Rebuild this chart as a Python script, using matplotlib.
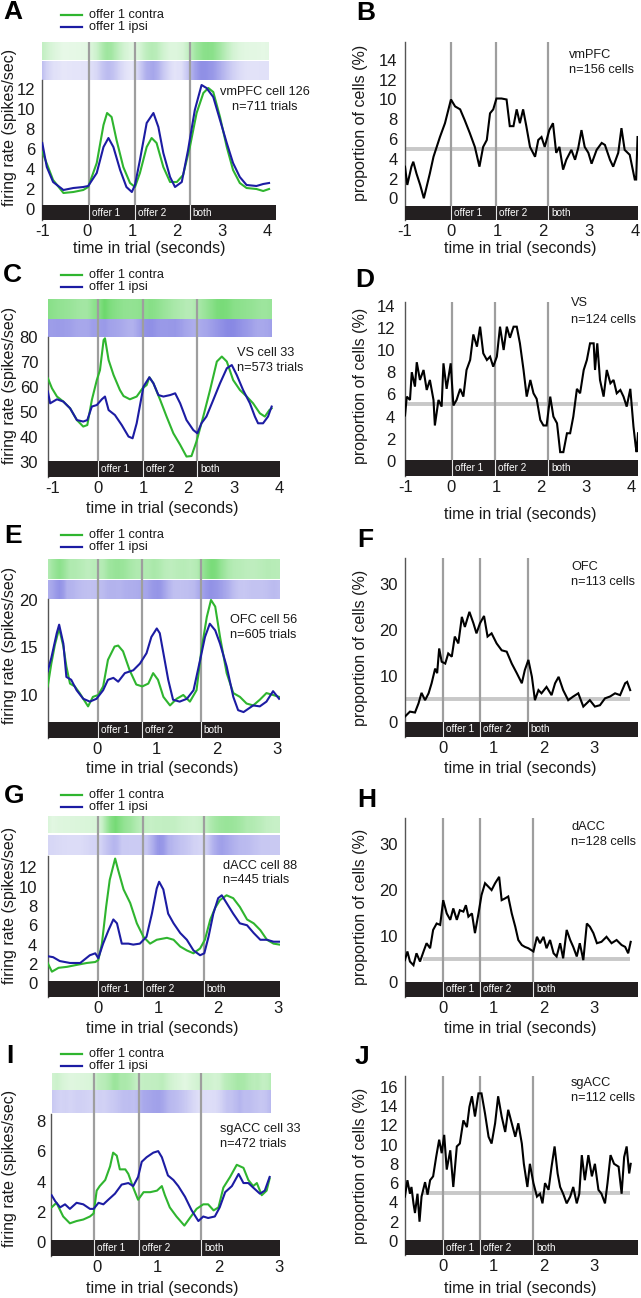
import numpy as np
import matplotlib
matplotlib.use("Agg")
import matplotlib.pyplot as plt
from matplotlib.lines import Line2D
from matplotlib.patches import Rectangle

plt.rcParams['font.family'] = ['Liberation Sans', 'DejaVu Sans']
plt.rcParams['axes.unicode_minus'] = False

# ---------------- DATA ----------------
# Panel A: vmPFC cell 126
A_t_contra = [-1.00, -0.76, -0.53, -0.31, -0.09, 0.02, 0.21, 0.36, 0.44, 0.54, 0.65, 0.80, 0.95, 1.06, 1.17, 1.32, 1.43, 1.54, 1.69, 1.84,
              1.99, 2.13, 2.28, 2.43, 2.58, 2.69, 2.80, 2.95, 3.10, 3.24, 3.39, 3.54, 3.76, 3.91, 4.04]
A_contra = [5.7, 2.9, 1.6, 1.7, 1.9, 2.2, 4.6, 8.4, 9.6, 9.2, 6.9, 4.2, 2.6, 2.2, 3.6, 6.2, 7.1, 6.6, 4.2, 2.7,
            2.7, 3.4, 6.2, 9.6, 11.6, 12.1, 11.7, 9.2, 6.2, 3.9, 2.6, 2.1, 2.0, 1.8, 2.0]
A_t_ipsi = [-1.00, -0.90, -0.76, -0.53, -0.31, -0.09, 0.02, 0.21, 0.36, 0.47, 0.58, 0.73, 0.87, 0.99, 1.06, 1.17, 1.32, 1.47, 1.58, 1.69,
            1.84, 1.95, 2.10, 2.24, 2.39, 2.54, 2.65, 2.80, 2.95, 3.10, 3.24, 3.39, 3.54, 3.76, 3.91, 4.04]
A_ipsi = [6.6, 4.2, 2.7, 1.9, 2.1, 2.2, 2.3, 3.6, 6.2, 7.1, 6.2, 3.9, 2.2, 1.7, 2.4, 4.9, 8.6, 9.6, 8.2, 5.6,
          3.2, 2.2, 2.7, 5.9, 9.9, 12.4, 12.1, 11.2, 8.9, 6.6, 4.6, 3.2, 2.4, 2.3, 2.5, 2.6]

# Panel B: vmPFC population
B_t = [-1.00, -0.95, -0.86, -0.82, -0.75, -0.67, -0.59, -0.46, -0.38, -0.31, -0.24, -0.13, 0.00, 0.09, 0.20, 0.30, 0.41, 0.52, 0.62, 0.70,
       0.78, 0.85, 0.92, 0.99, 1.10, 1.21, 1.28, 1.36, 1.43, 1.50, 1.57, 1.64, 1.72, 1.83, 1.90, 1.97, 2.04, 2.14, 2.22, 2.29,
       2.36, 2.44, 2.51, 2.62, 2.70, 2.77, 2.84, 2.91, 2.99, 3.06, 3.17, 3.28, 3.35, 3.46, 3.53, 3.64, 3.71, 3.78, 3.89, 4.00,
       4.03, 4.06]
B_prop = [3.2, 1.35, 3.2, 3.7, 2.5, 1.35, 0.0, 2.5, 4.2, 5.2, 6.2, 7.6, 10.0, 9.3, 9.0, 7.9, 6.6, 5.2, 3.2, 5.2,
          5.9, 8.6, 9.0, 10.1, 10.1, 10.0, 7.3, 7.3, 9.0, 7.6, 9.0, 7.3, 5.2, 4.2, 5.9, 6.2, 5.2, 6.9, 7.6, 4.6,
          5.2, 2.9, 3.9, 4.9, 3.9, 5.1, 6.9, 5.2, 4.6, 3.5, 4.9, 5.6, 5.4, 3.9, 3.2, 4.6, 7.1, 4.9, 4.4, 1.9,
          1.9, 6.2]

# Panel C: VS cell 33
C_t_contra = [-1.10, -1.01, -0.90, -0.76, -0.61, -0.46, -0.32, -0.23, -0.13, -0.02, 0.05, 0.13, 0.16, 0.24, 0.35, 0.49, 0.57, 0.71, 0.86, 0.99,
              1.08, 1.14, 1.23, 1.38, 1.52, 1.67, 1.82, 1.96, 2.07, 2.18, 2.33, 2.48, 2.63, 2.74, 2.85, 2.99, 3.14, 3.29, 3.43, 3.58,
              3.69, 3.79, 3.84]
C_contra = [63.6, 59.6, 56.3, 54.3, 51.6, 46.9, 44.3, 44.9, 54.9, 62.9, 66.9, 78.9, 79.6, 70.9, 64.9, 58.9, 56.5, 55.2, 56.3, 59.6,
            60.9, 64.0, 61.6, 54.9, 48.3, 41.6, 37.0, 32.3, 32.5, 38.3, 48.3, 58.9, 70.3, 72.3, 70.3, 62.9, 58.9, 56.3, 53.6, 49.6,
            48.3, 50.9, 51.6]
C_t_ipsi = [-1.10, -1.05, -0.90, -0.76, -0.61, -0.46, -0.32, -0.23, -0.13, -0.02, 0.09, 0.16, 0.24, 0.38, 0.53, 0.68, 0.77, 0.86, 1.01, 1.14,
            1.23, 1.34, 1.45, 1.60, 1.71, 1.82, 1.96, 2.11, 2.20, 2.29, 2.40, 2.55, 2.70, 2.85, 2.96, 3.07, 3.21, 3.36, 3.47, 3.54,
            3.65, 3.76, 3.84]
C_ipsi = [58.3, 53.6, 55.2, 54.3, 51.6, 46.9, 46.3, 46.9, 52.3, 52.9, 55.2, 56.3, 50.9, 48.9, 44.9, 40.3, 39.6, 45.6, 60.3, 64.0,
          61.6, 56.9, 56.3, 56.9, 57.6, 53.6, 46.9, 42.9, 41.6, 45.6, 48.3, 54.9, 61.6, 67.6, 68.9, 64.9, 58.9, 53.6, 48.3, 45.6,
          45.6, 48.3, 52.3]

# Panel D: VS population
D_t = [-1.01, -0.97, -0.90, -0.86, -0.79, -0.75, -0.68, -0.60, -0.53, -0.46, -0.38, -0.35, -0.27, -0.20, -0.16, -0.09, 0.00, 0.06, 0.13, 0.21,
       0.28, 0.35, 0.43, 0.50, 0.58, 0.65, 0.72, 0.80, 0.87, 0.94, 1.02, 1.09, 1.17, 1.24, 1.31, 1.39, 1.46, 1.53, 1.61, 1.68,
       1.76, 1.83, 1.90, 1.98, 2.05, 2.12, 2.20, 2.27, 2.35, 2.42, 2.49, 2.57, 2.64, 2.71, 2.79, 2.86, 2.94, 3.01, 3.08, 3.16,
       3.19, 3.24, 3.30, 3.38, 3.45, 3.53, 3.60, 3.67, 3.75, 3.82, 3.89, 3.97, 4.04, 4.09, 4.11, 4.14]
D_prop = [4.1, 5.8, 5.5, 8.0, 6.7, 8.9, 7.3, 8.2, 6.4, 7.3, 5.5, 3.2, 5.5, 4.9, 8.8, 6.5, 8.8, 5.0, 5.5, 6.5,
          5.8, 8.2, 9.1, 11.4, 10.3, 12.1, 9.7, 9.1, 9.4, 8.5, 9.4, 12.1, 10.0, 12.1, 11.1, 12.1, 12.1, 10.6, 8.2, 5.8,
          7.3, 6.1, 5.6, 3.7, 3.2, 3.2, 5.8, 4.0, 3.4, 0.8, 0.8, 2.5, 2.5, 4.0, 6.5, 6.1, 8.2, 9.1, 10.6, 10.6,
          8.2, 10.6, 7.3, 5.8, 8.2, 7.0, 7.3, 6.1, 6.4, 5.8, 4.9, 6.5, 3.1, 1.3, 0.8, 2.5]

# Panel E: OFC cell 56
E_t_contra = [-0.81, -0.75, -0.69, -0.62, -0.55, -0.50, -0.44, -0.36, -0.28, -0.19, -0.14, -0.06, 0.03, 0.11, 0.19, 0.30, 0.36, 0.44, 0.55, 0.66,
              0.76, 0.86, 0.94, 1.02, 1.11, 1.22, 1.33, 1.44, 1.55, 1.66, 1.74, 1.83, 1.90, 1.97, 2.05, 2.16, 2.27, 2.38, 2.49, 2.60,
              2.71, 2.82, 2.93, 3.03]
E_contra = [10.9, 13.3, 15.3, 17.0, 15.1, 13.0, 11.2, 10.9, 10.2, 9.3, 8.8, 9.8, 10.0, 10.9, 13.7, 15.1, 15.2, 14.6, 12.6, 11.1,
            10.9, 11.2, 12.3, 11.6, 9.8, 8.9, 9.6, 10.0, 9.3, 10.5, 14.7, 18.2, 20.0, 19.3, 16.1, 12.3, 10.2, 9.8, 9.1, 8.9,
            9.5, 10.2, 10.0, 9.8]
E_t_ipsi = [-0.81, -0.75, -0.66, -0.62, -0.55, -0.50, -0.42, -0.33, -0.22, -0.11, 0.00, 0.11, 0.19, 0.28, 0.36, 0.47, 0.61, 0.72, 0.83, 0.91,
            1.00, 1.05, 1.11, 1.19, 1.27, 1.38, 1.50, 1.61, 1.72, 1.80, 1.88, 1.97, 2.05, 2.16, 2.27, 2.35, 2.44, 2.60, 2.71, 2.82,
            2.93, 3.03]
E_ipsi = [12.5, 13.9, 16.5, 17.4, 15.4, 11.9, 11.6, 10.5, 9.6, 9.3, 9.6, 10.5, 11.6, 11.8, 11.4, 12.3, 12.6, 13.3, 14.4, 16.1,
          17.0, 16.5, 14.4, 11.6, 9.5, 9.3, 9.6, 10.5, 13.7, 16.1, 17.5, 16.8, 15.4, 13.0, 9.8, 8.4, 8.2, 8.9, 8.8, 9.3,
          10.4, 9.6]

# Panel F: OFC population
F_t = [-0.75, -0.65, -0.55, -0.48, -0.42, -0.35, -0.28, -0.22, -0.15, -0.11, -0.07, -0.02, 0.05, 0.11, 0.18, 0.24, 0.31, 0.38, 0.44, 0.53,
       0.61, 0.67, 0.74, 0.82, 0.89, 0.97, 1.07, 1.17, 1.27, 1.37, 1.47, 1.57, 1.63, 1.70, 1.77, 1.83, 1.90, 1.96, 2.06, 2.16,
       2.23, 2.30, 2.39, 2.49, 2.59, 2.69, 2.79, 2.92, 3.02, 3.12, 3.22, 3.32, 3.42, 3.52, 3.62, 3.66, 3.72]
F_prop = [1.1, 2.2, 2.0, 4.0, 6.3, 4.7, 6.2, 8.4, 11.6, 10.6, 16.0, 13.1, 12.7, 14.9, 14.2, 18.6, 17.1, 22.9, 20.7, 24.0,
          21.5, 19.3, 21.5, 23.1, 18.6, 19.3, 17.1, 15.6, 15.3, 12.7, 10.6, 8.4, 11.3, 13.5, 9.8, 4.7, 6.9, 6.2, 7.6, 5.8,
          8.4, 9.8, 6.9, 4.7, 5.5, 6.2, 3.3, 4.7, 3.3, 3.6, 5.1, 5.5, 6.2, 5.8, 8.4, 8.7, 6.9]

# Panel G: dACC cell 88
G_t_contra = [-0.83, -0.76, -0.65, -0.51, -0.35, -0.18, -0.04, 0.01, 0.07, 0.14, 0.20, 0.29, 0.34, 0.43, 0.54, 0.65, 0.76, 0.87, 0.98, 1.15,
              1.26, 1.37, 1.48, 1.59, 1.70, 1.78, 1.87, 1.95, 2.03, 2.14, 2.25, 2.36, 2.48, 2.59, 2.70, 2.81, 2.92, 3.02]
G_contra = [2.1, 1.2, 1.6, 1.7, 1.9, 2.1, 2.2, 2.4, 4.1, 7.9, 10.7, 12.9, 11.7, 9.7, 8.3, 6.2, 4.8, 4.1, 4.5, 4.7,
            4.5, 3.8, 3.4, 3.1, 3.6, 4.5, 6.6, 7.8, 8.6, 9.1, 8.8, 7.9, 6.6, 6.2, 5.5, 4.5, 4.1, 4.0]
G_t_ipsi = [-0.83, -0.74, -0.63, -0.46, -0.29, -0.13, -0.04, 0.01, 0.09, 0.18, 0.26, 0.32, 0.40, 0.51, 0.59, 0.70, 0.81, 0.90, 0.98, 1.02,
            1.09, 1.17, 1.26, 1.37, 1.48, 1.59, 1.70, 1.77, 1.84, 1.92, 2.00, 2.06, 2.14, 2.25, 2.36, 2.48, 2.59, 2.70, 2.81, 2.92,
            3.02]
G_ipsi = [2.8, 2.7, 2.3, 2.1, 2.1, 2.9, 3.1, 2.6, 4.1, 5.5, 6.6, 6.2, 4.1, 4.1, 4.0, 4.1, 4.8, 7.2, 9.8, 10.5,
          9.7, 7.2, 6.2, 5.2, 4.5, 3.4, 2.9, 3.1, 4.8, 7.2, 8.8, 9.1, 8.3, 7.2, 6.2, 6.0, 5.2, 4.5, 4.5, 4.3,
          4.3]

# Panel H: dACC population
H_t = [-0.75, -0.70, -0.65, -0.58, -0.52, -0.45, -0.38, -0.32, -0.25, -0.19, -0.12, -0.05, 0.01, 0.08, 0.15, 0.21, 0.28, 0.34, 0.41, 0.46,
       0.51, 0.58, 0.64, 0.71, 0.77, 0.84, 0.91, 0.97, 1.04, 1.12, 1.17, 1.24, 1.30, 1.37, 1.44, 1.50, 1.57, 1.63, 1.70, 1.80,
       1.87, 1.93, 2.00, 2.06, 2.13, 2.20, 2.26, 2.33, 2.39, 2.46, 2.53, 2.59, 2.66, 2.72, 2.79, 2.86, 2.92, 2.99, 3.06, 3.15,
       3.25, 3.35, 3.45, 3.55, 3.62, 3.68, 3.73]
H_prop = [4.7, 6.6, 4.4, 3.6, 6.2, 4.4, 6.6, 8.4, 7.3, 11.3, 12.7, 12.4, 17.8, 14.9, 13.5, 16.0, 13.5, 15.6, 15.3, 16.7,
          14.2, 14.9, 10.6, 14.9, 18.9, 21.5, 20.7, 20.0, 21.5, 22.9, 17.8, 18.2, 18.6, 14.9, 12.0, 9.1, 8.0, 7.6, 7.3, 6.6,
          9.8, 8.4, 9.8, 7.3, 9.1, 6.2, 5.5, 8.4, 5.1, 11.3, 9.1, 7.6, 5.5, 8.4, 4.7, 12.7, 12.0, 10.6, 8.4, 8.7,
          9.8, 8.4, 9.1, 8.0, 7.6, 6.2, 8.7]

# Panel I: sgACC cell 33
I_t_contra = [-0.74, -0.66, -0.55, -0.44, -0.33, -0.22, -0.11, -0.05, 0.00, 0.05, 0.14, 0.22, 0.27, 0.33, 0.38, 0.47, 0.52, 0.60, 0.68, 0.77,
              0.88, 0.99, 1.07, 1.12, 1.20, 1.31, 1.44, 1.53, 1.64, 1.75, 1.83, 1.92, 2.00, 2.08, 2.19, 2.30, 2.41, 2.49, 2.57, 2.63,
              2.71, 2.79, 2.84]
I_contra = [2.3, 2.6, 1.7, 1.25, 1.4, 1.5, 1.7, 1.9, 3.4, 3.7, 4.1, 5.0, 5.9, 5.7, 4.8, 4.8, 4.5, 3.6, 2.8, 3.3,
            3.3, 3.4, 3.7, 3.1, 2.3, 1.7, 1.1, 1.6, 2.2, 2.5, 2.5, 2.1, 2.3, 3.6, 4.3, 5.1, 4.9, 4.1, 3.7, 3.9,
            3.1, 3.4, 4.2]
I_t_ipsi = [-0.74, -0.68, -0.60, -0.52, -0.44, -0.33, -0.22, -0.11, -0.05, 0.03, 0.11, 0.19, 0.30, 0.41, 0.52, 0.60, 0.68, 0.74, 0.82, 0.93,
            1.01, 1.07, 1.12, 1.17, 1.26, 1.34, 1.45, 1.56, 1.67, 1.75, 1.83, 1.94, 2.02, 2.11, 2.22, 2.33, 2.41, 2.49, 2.57, 2.68,
            2.76, 2.84]
I_ipsi = [3.1, 2.7, 2.3, 2.5, 2.2, 2.6, 2.5, 2.2, 2.2, 2.6, 2.5, 2.8, 3.2, 3.8, 3.9, 3.7, 4.3, 5.3, 5.6, 5.9,
          6.0, 5.6, 5.0, 4.4, 4.1, 3.7, 3.0, 2.1, 1.4, 1.7, 1.6, 1.7, 2.3, 3.3, 3.7, 4.5, 3.9, 3.9, 3.6, 3.2,
          3.4, 4.3]

# Panel J: sgACC population
J_t = [-0.75, -0.70, -0.65, -0.62, -0.58, -0.55, -0.50, -0.46, -0.42, -0.35, -0.30, -0.25, -0.19, -0.13, -0.07, -0.02, 0.03, 0.08, 0.15, 0.21,
       0.28, 0.34, 0.41, 0.48, 0.53, 0.58, 0.64, 0.71, 0.77, 0.84, 0.91, 0.97, 1.04, 1.10, 1.17, 1.24, 1.30, 1.37, 1.44, 1.50,
       1.57, 1.61, 1.68, 1.73, 1.80, 1.87, 1.93, 1.98, 2.03, 2.10, 2.16, 2.22, 2.28, 2.33, 2.39, 2.46, 2.53, 2.59, 2.66, 2.71,
       2.76, 2.82, 2.89, 2.96, 3.02, 3.09, 3.15, 3.22, 3.27, 3.33, 3.40, 3.49, 3.55, 3.60, 3.65, 3.70, 3.73]
J_prop = [4.6, 6.3, 4.9, 5.6, 3.9, 2.9, 4.9, 2.0, 4.6, 6.1, 4.8, 6.3, 6.7, 8.7, 10.5, 9.1, 11.0, 7.4, 9.4, 5.6,
          9.8, 10.1, 12.5, 11.8, 13.9, 15.0, 12.9, 15.3, 15.3, 13.2, 10.8, 10.1, 12.2, 15.0, 12.9, 11.3, 13.6, 12.2, 10.8, 12.2,
          10.1, 8.0, 5.6, 8.0, 6.0, 4.6, 4.9, 3.9, 6.0, 5.3, 7.7, 9.8, 7.0, 5.6, 4.9, 3.9, 4.6, 5.6, 3.9, 4.9,
          8.9, 6.3, 8.9, 6.7, 8.0, 5.3, 4.9, 3.9, 6.0, 8.9, 8.0, 7.7, 4.9, 8.7, 9.8, 7.0, 8.0]

CHANCE = 5
EVENT_LABELS = ["offer 1", "offer 2", "both"]
LEGEND_LABELS = ["offer 1 contra", "offer 1 ipsi"]

# ---------------- STYLE / LAYOUT ----------------
W, H = 641, 1298
fig = plt.figure(figsize=(W / 100, H / 100), dpi=100)

GREEN = '#2fb52f'
BLUE = '#1c1ca3'
R_GREEN = (0.05, 0.75, 0.05)
R_BLUE = (0.12, 0.12, 0.80)
EVENT_C = '#9e9e9e'
BAR_C = '#231f20'
SPINE_C = '#555555'
TEXT_C = '#1a1a1a'
TICK_FS = 12
LABEL_FS = 11.5


def fxp(px):
    return px / W


def fyp(py):
    return 1 - py / H


def base_axes(box, xlim, ylim, spine_top, yticks, xticks, ypad):
    l, t, r, b = box
    ax = fig.add_axes([l / W, 1 - b / H, (r - l) / W, (b - t) / H])
    ax.patch.set_visible(False)
    for s in ('top', 'right', 'bottom'):
        ax.spines[s].set_visible(False)
    ax.spines['left'].set_bounds(ylim[0], spine_top)
    ax.spines['left'].set_color(SPINE_C)
    ax.spines['left'].set_linewidth(1.0)
    ax.set_yticks(yticks)
    ax.set_yticklabels([str(v) for v in yticks])
    ax.set_xticks(xticks)
    ax.set_xticklabels([str(v) for v in xticks])
    ax.tick_params(axis='both', length=0, labelsize=TICK_FS, labelcolor=TEXT_C)
    ax.tick_params(axis='y', pad=ypad)
    ax.tick_params(axis='x', pad=3.0)
    return ax


def draw_bar_events(ax, box, xlim, ylim, bar, events):
    pxu = (box[2] - box[0]) / (xlim[1] - xlim[0])
    ax.add_patch(Rectangle((xlim[0], bar[0]), xlim[1] - xlim[0], bar[1] - bar[0],
                           facecolor=BAR_C, edgecolor='none', zorder=4, clip_on=False))
    for e, lab in zip(events, EVENT_LABELS):
        ax.plot([e, e], [bar[1], ylim[1]], color=EVENT_C, lw=1.6, zorder=2, solid_capstyle='butt')
        ax.plot([e, e], [bar[0], bar[1]], color='#e6e6e6', lw=0.8, zorder=5)
        ax.text(e + 3.0 / pxu, (bar[0] + bar[1]) / 2, lab, color='white', fontsize=7.2,
                ha='left', va='center', zorder=6)


def raster(ax, t, v, band, color, arng, vmin, vmax):
    grid = np.linspace(t[0], t[-1], 500)
    r = np.interp(grid, t, v)
    n = np.clip((r - vmin) / (vmax - vmin), 0, 1)
    img = np.zeros((1, grid.size, 4))
    img[..., 0], img[..., 1], img[..., 2] = color
    img[..., 3] = arng[0] + arng[1] * n
    ax.imshow(img, extent=(t[0], t[-1], band[0], band[1]), aspect='auto',
              interpolation='bilinear', zorder=1)


LEFT = [
    dict(key='A', tc=A_t_contra, vc=A_contra, ti=A_t_ipsi, vi=A_ipsi,
         box=(42.3, 42, 275.8, 220), xlim=(-1, 4.19), ylim=(-1.1, 16.7), spine_top=12.9,
         bar=(-1.1, 0.4), green=(14.9, 16.7), blue=(12.9, 14.75), events=(0.04, 1.06, 2.28),
         yticks=[0, 2, 4, 6, 8, 10, 12], xticks=[-1, 0, 1, 2, 3, 4], leg_y=(15, 27), ypad=5.3,
         ann=["vmPFC cell 126", "n=711 trials"], ann_ha='center', ann_x=265, ann_y=(92, 107),
         ylab=(9.5, 127), xlab=(149, 248), letter=(3, 12), arng=(0.10, 0.40)),
    dict(key='C', tc=C_t_contra, vc=C_contra, ti=C_t_ipsi, vi=C_ipsi,
         box=(47.9, 299.3, 279.8, 476.7), xlim=(-1.1, 4.02), ylim=(24.24, 95.2), spine_top=80,
         bar=(24.24, 30.6), green=(87.2, 95.2), blue=(80, 86.9), events=(0.0, 1.0, 2.19),
         yticks=[30, 40, 50, 60, 70, 80], xticks=[-1, 0, 1, 2, 3, 4], leg_y=(275, 287), ypad=7,
         ann=["VS cell 33", "n=573 trials"], ann_ha='left', ann_x=237, ann_y=(353, 368),
         ylab=(9.5, 385), xlab=(162, 508), letter=(3, 275), arng=(0.30, 0.30)),
    dict(key='E', tc=E_t_contra, vc=E_contra, ti=E_t_ipsi, vi=E_ipsi,
         box=(47.7, 559.3, 280, 738.3), xlim=(-0.81, 3.045), ylim=(5.44, 24.28), spine_top=20.1,
         bar=(5.44, 7.19), green=(22.17, 24.28), blue=(20.1, 22.05), events=(0.02, 0.76, 1.73),
         yticks=[10, 15, 20], xticks=[0, 1, 2, 3], leg_y=(535, 547), ypad=7,
         ann=["OFC cell 56", "n=605 trials"], ann_ha='left', ann_x=230, ann_y=(620, 635),
         ylab=(9.5, 645), xlab=(162, 768), letter=(4, 536), arng=(0.25, 0.30)),
    dict(key='G', tc=G_t_contra, vc=G_contra, ti=G_t_ipsi, vi=G_ipsi,
         box=(47.7, 816, 280, 997.3), xlim=(-0.83, 3.027), ylim=(-1.45, 17.3), spine_top=13.17,
         bar=(-1.45, 0.24), green=(15.54, 17.3), blue=(13.27, 15.3), events=(0.0, 0.76, 1.76),
         yticks=[0, 2, 4, 6, 8, 10, 12], xticks=[0, 1, 2, 3], leg_y=(795, 807), ypad=7.5,
         ann=["dACC cell 88", "n=445 trials"], ann_ha='left', ann_x=223, ann_y=(866, 880),
         ylab=(9.5, 905), xlab=(162, 1028), letter=(4, 796), arng=(0.12, 0.45)),
    dict(key='I', tc=I_t_contra, vc=I_contra, ti=I_t_ipsi, vi=I_ipsi,
         box=(51, 1073, 280, 1255.7), xlim=(-0.75, 3.01), ylim=(-0.88, 11.14), spine_top=8.44,
         bar=(-0.88, 0.15), green=(10.02, 11.14), blue=(8.51, 10.0), events=(-0.05, 0.70, 1.72),
         yticks=[0, 2, 4, 6, 8], xticks=[0, 1, 2, 3], leg_y=(1054, 1066), ypad=4,
         ann=["sgACC cell 33", "n=472 trials"], ann_ha='left', ann_x=220, ann_y=(1129, 1144),
         ylab=(9.5, 1168), xlab=(162, 1288), letter=(6, 1056), arng=(0.12, 0.30)),
]

RIGHT = [
    dict(key='B', t=B_t, v=B_prop, box=(405, 41.7, 638, 220), xlim=(-1, 4.07), ylim=(-2.2, 15.85),
         bar=(-2.2, -0.75), events=(0.0, 0.98, 2.12), hline=(CHANCE, -1, 4.07), ypad=5.3,
         yticks=[0, 2, 4, 6, 8, 10, 12, 14], xticks=[-1, 0, 1, 2, 3, 4],
         ann=["vmPFC", "n=156 cells"], ann_x=569, ann_y=(55, 70), ylab=(360, 123), xlab=(520, 248), letter=(356, 13)),
    dict(key='D', t=D_t, v=D_prop, box=(405, 301.7, 638, 476), xlim=(-1.01, 4.14), ylim=(-1.35, 14.35),
         bar=(-1.35, 0.05), events=(0.02, 0.99, 2.16), hline=(CHANCE + 0.1, -1.01, 4.14), ypad=7,
         yticks=[0, 2, 4, 6, 8, 10, 12, 14], xticks=[-1, 0, 1, 2, 3, 4],
         ann=["VS", "n=124 cells"], ann_x=571, ann_y=(303, 320), ylab=(360, 386), xlab=(520, 515), letter=(355, 280)),
    dict(key='F', t=F_t, v=F_prop, box=(405, 558.3, 638, 736.7), xlim=(-0.748, 3.875), ylim=(-3.28, 35.7),
         bar=(-3.28, 0.0), events=(0.0, 0.75, 1.69), hline=(CHANCE, -0.748, 3.72), ypad=5,
         yticks=[0, 10, 20, 30], xticks=[0, 1, 2, 3],
         ann=["OFC", "n=113 cells"], ann_x=571, ann_y=(567, 582), ylab=(360, 648), xlab=(520, 768), letter=(357, 540)),
    dict(key='H', t=H_t, v=H_prop, box=(405, 818, 638, 996.7), xlim=(-0.748, 3.875), ylim=(-3.28, 35.74),
         bar=(-3.28, 0.0), events=(0.0, 0.75, 1.80), hline=(CHANCE, -0.39, 3.72), ypad=5,
         yticks=[0, 10, 20, 30], xticks=[0, 1, 2, 3],
         ann=["dACC", "n=128 cells"], ann_x=571, ann_y=(827, 842), ylab=(360, 907), xlab=(520, 1028), letter=(357, 800)),
    dict(key='J', t=J_t, v=J_prop, box=(405, 1076, 638, 1255), xlim=(-0.748, 3.875), ylim=(-1.45, 17.1),
         bar=(-1.45, 0.1), events=(0.0, 0.75, 1.80), hline=(CHANCE, -0.39, 3.72), ypad=5,
         yticks=[0, 2, 4, 6, 8, 10, 12, 14, 16], xticks=[0, 1, 2, 3],
         ann=["sgACC", "n=112 cells"], ann_x=571, ann_y=(1083, 1098), ylab=(360, 1166), xlab=(520, 1288), letter=(355, 1057)),
]

XLABEL = "time in trial (seconds)"

for p in LEFT:
    ax = base_axes(p['box'], p['xlim'], p['ylim'], p['spine_top'], p['yticks'], p['xticks'], ypad=p['ypad'])
    vals = list(p['vc']) + list(p['vi'])
    vmin, vmax = min(vals), max(vals)
    raster(ax, p['tc'], p['vc'], p['green'], R_GREEN, p['arng'], vmin, vmax)
    raster(ax, p['ti'], p['vi'], p['blue'], R_BLUE, p['arng'], vmin, vmax)
    draw_bar_events(ax, p['box'], p['xlim'], p['ylim'], p['bar'], p['events'])
    ax.plot(p['tc'], p['vc'], color=GREEN, lw=1.5, zorder=3, solid_joinstyle='round')
    ax.plot(p['ti'], p['vi'], color=BLUE, lw=1.5, zorder=3.1, solid_joinstyle='round')
    ax.set_xlim(p['xlim'])
    ax.set_ylim(p['ylim'])
    # legend
    for (yy, col, lab) in zip(p['leg_y'], (GREEN, BLUE), LEGEND_LABELS):
        fig.add_artist(Line2D([fxp(61), fxp(82)], [fyp(yy), fyp(yy)], color=col, lw=1.6,
                              transform=fig.transFigure))
        fig.text(fxp(89), fyp(yy), lab, fontsize=9.2, va='center', ha='left', color=TEXT_C)
    for txt, yy in zip(p['ann'], p['ann_y']):
        fig.text(fxp(p['ann_x']), fyp(yy), txt, fontsize=9.2, va='center', ha=p['ann_ha'], color=TEXT_C)
    fig.text(fxp(p['ylab'][0]), fyp(p['ylab'][1]), "firing rate (spikes/sec)", rotation=90,
             fontsize=LABEL_FS, ha='center', va='center', color=TEXT_C)
    fig.text(fxp(p['xlab'][0]), fyp(p['xlab'][1]), XLABEL, fontsize=LABEL_FS, ha='center', va='center', color=TEXT_C)
    fig.text(fxp(p['letter'][0]), fyp(p['letter'][1]), p['key'], fontsize=19, fontweight='bold',
             ha='left', va='center', color='black')

for p in RIGHT:
    ax = base_axes(p['box'], p['xlim'], p['ylim'], p['ylim'][1], p['yticks'], p['xticks'], ypad=p['ypad'])
    draw_bar_events(ax, p['box'], p['xlim'], p['ylim'], p['bar'], p['events'])
    hv, hx0, hx1 = p['hline']
    ax.plot([hx0, hx1], [hv, hv], color='#c8c8c8', lw=2.8, zorder=1.5, solid_capstyle='butt')
    ax.plot(p['t'], p['v'], color='black', lw=1.5, zorder=3, solid_joinstyle='miter')
    ax.set_xlim(p['xlim'])
    ax.set_ylim(p['ylim'])
    for txt, yy in zip(p['ann'], p['ann_y']):
        fig.text(fxp(p['ann_x']), fyp(yy), txt, fontsize=9.2, va='center', ha='left', color=TEXT_C)
    fig.text(fxp(p['ylab'][0]), fyp(p['ylab'][1]), "proportion of cells (%)", rotation=90,
             fontsize=LABEL_FS, ha='center', va='center', color=TEXT_C)
    fig.text(fxp(p['xlab'][0]), fyp(p['xlab'][1]), XLABEL, fontsize=LABEL_FS, ha='center', va='center', color=TEXT_C)
    fig.text(fxp(p['letter'][0]), fyp(p['letter'][1]), p['key'], fontsize=19, fontweight='bold',
             ha='left', va='center', color='black')

fig.savefig("out.png", dpi=100)
